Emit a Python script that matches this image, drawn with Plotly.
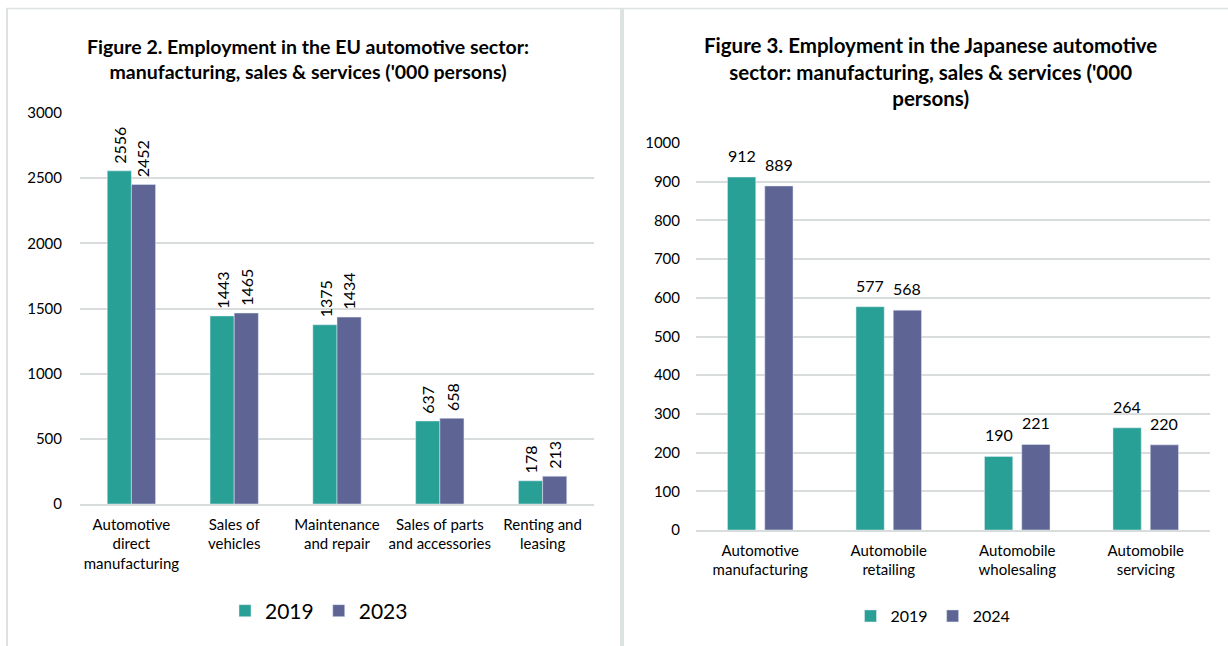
import plotly.graph_objects as go

eu_categories = ["Automotive<br>direct<br>manufacturing", "Sales of<br>vehicles",
                 "Maintenance<br>and repair", "Sales of parts<br>and accessories",
                 "Renting and<br>leasing"]
eu_2019 = [2556, 1443, 1375, 637, 178]
eu_2023 = [2452, 1465, 1434, 658, 213]

jp_categories = ["Automotive<br>manufacturing", "Automobile<br>retailing",
                 "Automobile<br>wholesaling", "Automobile<br>servicing"]
jp_2019 = [912, 577, 190, 264]
jp_2024 = [889, 568, 221, 220]

TEAL = "#29A096"
PURPLE = "#5E6595"
FONT = "Lato"
W, H = 1228, 646

def fx(px):
    return px / W

def fy(py):
    return 1 - py / H

fig = go.Figure()

fig.add_trace(go.Bar(x=eu_categories, y=eu_2019, name="2019", marker_color=TEAL,
                     xaxis="x", yaxis="y", legend="legend"))
fig.add_trace(go.Bar(x=eu_categories, y=eu_2023, name="2023", marker_color=PURPLE,
                     xaxis="x", yaxis="y", legend="legend"))
fig.add_trace(go.Bar(x=jp_categories, y=jp_2019, name="2019", marker_color=TEAL,
                     xaxis="x2", yaxis="y2", legend="legend2"))
fig.add_trace(go.Bar(x=jp_categories, y=jp_2024, name="2024", marker_color=PURPLE,
                     xaxis="x2", yaxis="y2", legend="legend2"))

grid = "#D9DCDC"
ytickfont = dict(family=FONT, size=15, color="#000")
xtickfont = dict(family=FONT, size=15, color="#000")

fig.update_layout(
    width=W, height=H, margin=dict(l=0, r=0, t=0, b=0, pad=0, autoexpand=False),
    paper_bgcolor="white", plot_bgcolor="white",
    font=dict(family=FONT, color="#000"),
    barmode="group", bargap=0.53, bargroupgap=0.0,
    xaxis=dict(domain=[fx(80), fx(594)], anchor="y", showline=True, linecolor=grid,
               linewidth=1.5, ticks="", tickfont=xtickfont, showgrid=False, automargin=False,
               ticklabelstandoff=6),
    yaxis=dict(domain=[fy(504), fy(113)], anchor="x", range=[0, 3000], dtick=500,
               showgrid=True, gridcolor=grid, gridwidth=1.5, zeroline=False, automargin=False,
               tickfont=ytickfont, ticks="", ticklabelstandoff=17),
    xaxis2=dict(domain=[fx(696), fx(1210)], anchor="y2", showline=True, linecolor=grid,
                linewidth=1.5, ticks="", tickfont=xtickfont, showgrid=False, automargin=False,
                ticklabelstandoff=6),
    yaxis2=dict(domain=[fy(530), fy(143)], anchor="x2", range=[0, 1000], dtick=100,
                showgrid=True, gridcolor=grid, gridwidth=1.5, zeroline=False, automargin=False,
                tickfont=ytickfont, ticks="", ticklabelstandoff=15),
    legend=dict(orientation="h", x=fx(319), xanchor="center", y=fy(611), yanchor="middle",
                font=dict(family=FONT, size=21), traceorder="normal"),
    legend2=dict(orientation="h", x=fx(933), xanchor="center", y=fy(616), yanchor="middle",
                 font=dict(family=FONT, size=16), traceorder="normal"),
    showlegend=True,
)

# Per-subplot bar widths/offsets for the Japanese chart
fig.data[2].update(width=0.22, offset=-0.255)
fig.data[3].update(width=0.22, offset=0.035)

# Data labels
EU_SHIFT = 12
for cat, v in zip(eu_categories, eu_2019):
    fig.add_annotation(x=cat, y=v, xref="x", yref="y", text=str(v), textangle=-90,
                       xanchor="center", yanchor="bottom", yshift=5, xshift=-EU_SHIFT,
                       showarrow=False, font=dict(family=FONT, size=16, color="#000"))
for cat, v in zip(eu_categories, eu_2023):
    fig.add_annotation(x=cat, y=v, xref="x", yref="y", text=str(v), textangle=-90,
                       xanchor="center", yanchor="bottom", yshift=5, xshift=EU_SHIFT,
                       showarrow=False, font=dict(family=FONT, size=16, color="#000"))
JP_SHIFT = 18.6
for cat, v in zip(jp_categories, jp_2019):
    fig.add_annotation(x=cat, y=v, xref="x2", yref="y2", text=str(v),
                       xanchor="center", yanchor="bottom", yshift=10, xshift=-JP_SHIFT,
                       showarrow=False, font=dict(family=FONT, size=16, color="#000"))
for cat, v in zip(jp_categories, jp_2024):
    fig.add_annotation(x=cat, y=v, xref="x2", yref="y2", text=str(v),
                       xanchor="center", yanchor="bottom", yshift=10, xshift=JP_SHIFT,
                       showarrow=False, font=dict(family=FONT, size=16, color="#000"))

fig.add_annotation(text="<b>Figure 2. Employment in the EU automotive sector:<br>manufacturing, sales &amp; services ('000 persons)</b>",
                   xref="paper", yref="paper", x=fx(308), y=fy(58.5), xanchor="center", yanchor="middle",
                   showarrow=False, font=dict(family=FONT, size=19.5, color="#000"), align="center")
fig.add_annotation(text="<b>Figure 3. Employment in the Japanese automotive<br>sector: manufacturing, sales &amp; services ('000<br>persons)</b>",
                   xref="paper", yref="paper", x=fx(930), y=fy(72), xanchor="center", yanchor="middle",
                   showarrow=False, font=dict(family=FONT, size=20.5, color="#000"), align="center")

border = "#DDE3E3"
fig.add_shape(type="line", xref="paper", yref="paper", x0=fx(6), x1=1, y0=fy(8.5), y1=fy(8.5),
              line=dict(color=border, width=1.5))
fig.add_shape(type="line", xref="paper", yref="paper", x0=fx(7), x1=fx(7), y0=fy(8), y1=0,
              line=dict(color=border, width=2))
fig.add_shape(type="line", xref="paper", yref="paper", x0=fx(622), x1=fx(622), y0=fy(8), y1=0,
              line=dict(color=border, width=4))

fig.write_html("out.html",
               post_script="document.body.style.margin='0';document.body.style.overflow='hidden';")
